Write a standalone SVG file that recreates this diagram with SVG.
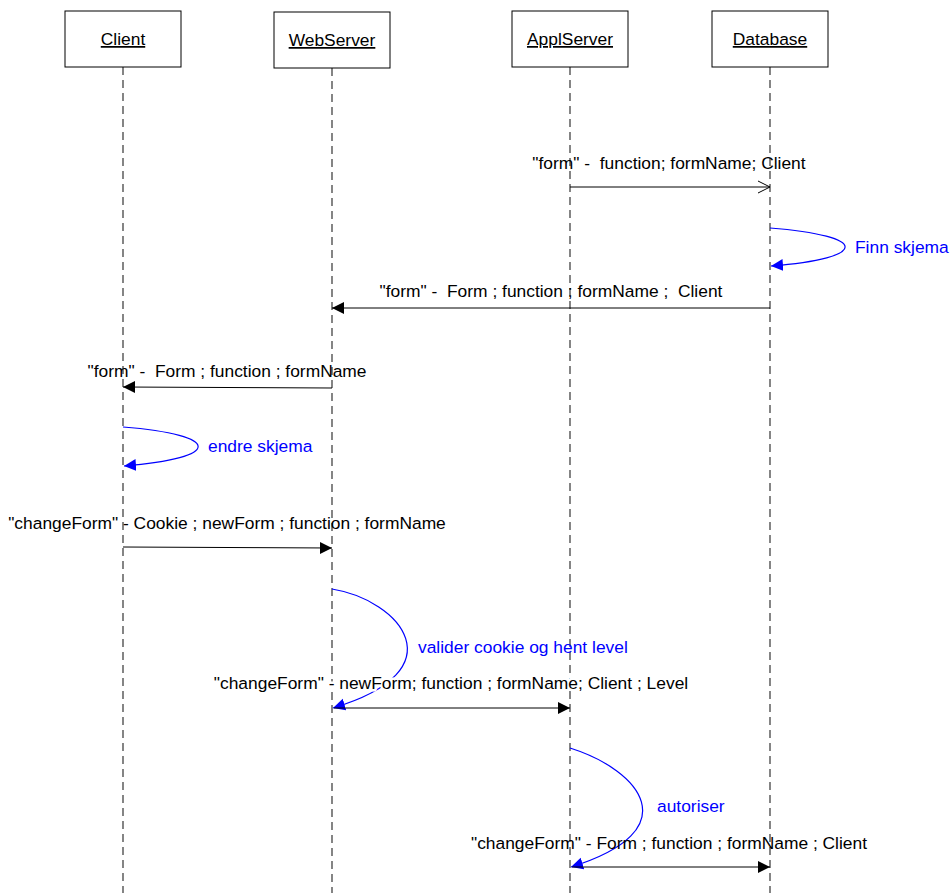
<svg xmlns="http://www.w3.org/2000/svg" width="951" height="893" viewBox="0 0 951 893">
<style>
text{font-family:"Liberation Sans",Arial,sans-serif;font-size:17.4px;fill:#000;white-space:pre}
.box{fill:#fff;stroke:#000;stroke-width:1}
.name{text-anchor:middle;text-decoration:underline}
.life{stroke:#444;stroke-width:1.3;stroke-dasharray:8 5;fill:none}
.msg{stroke:#000;stroke-width:1;fill:none}
.lbl{text-anchor:middle}
.self{stroke:#00f;stroke-width:1.2;fill:none;marker-end:url(#blue)}
.blue{fill:#00f}
.halo{stroke:#fff;stroke-width:5;paint-order:stroke;stroke-linejoin:round}
</style>
<defs>
<marker id="open" markerWidth="14" markerHeight="14" refX="12" refY="7" orient="auto" markerUnits="userSpaceOnUse"><path d="M0,1 L12,7 L0,13" fill="none" stroke="#000" stroke-width="1"/></marker>
<marker id="fill" markerWidth="14" markerHeight="14" refX="12" refY="7" orient="auto" markerUnits="userSpaceOnUse"><path d="M0,1 L12,7 L0,13 Z" fill="#000"/></marker>
<marker id="blue" markerWidth="14" markerHeight="14" refX="12" refY="7" orient="auto" markerUnits="userSpaceOnUse"><path d="M0,1 L12,7 L0,13 Z" fill="#00f"/></marker>
</defs>
<rect width="951" height="893" fill="#fff"/>
<g id="lifelines">
<line class="life" x1="123" y1="67" x2="123" y2="893"/>
<line class="life" x1="332" y1="68" x2="332" y2="893"/>
<line class="life" x1="570" y1="67" x2="570" y2="893"/>
<line class="life" x1="770" y1="67" x2="770" y2="893"/>
</g>
<g id="Client"><rect class="box" x="65" y="11" width="116" height="56"/><text class="name" x="123" y="45">Client</text></g>
<g id="WebServer"><rect class="box" x="274" y="12" width="116" height="56"/><text class="name" x="332" y="46">WebServer</text></g>
<g id="ApplServer"><rect class="box" x="512" y="11" width="116" height="56"/><text class="name" x="570" y="45">ApplServer</text></g>
<g id="Database"><rect class="box" x="712" y="11" width="116" height="56"/><text class="name" x="770" y="45">Database</text></g>
<g id="connectors">
<line class="msg" x1="570" y1="187" x2="770" y2="187" marker-end="url(#open)"/>
<path class="self" d="M770,228 C870,236 870,258 771,266"/>
<line class="msg" x1="770" y1="308" x2="332" y2="308" marker-end="url(#fill)"/>
<line class="msg" x1="332" y1="388" x2="123" y2="387" marker-end="url(#fill)"/>
<path class="self" d="M123,427 C223,435 223,458 124,466"/>
<line class="msg" x1="123" y1="547" x2="332" y2="548" marker-end="url(#fill)"/>
<path class="self" d="M332,589 C400,600 460,670 333,708"/>
<line class="msg" x1="334" y1="708" x2="570" y2="708" marker-end="url(#fill)"/>
<path class="self" d="M570,748 C640,770 690,830 571,867"/>
<line class="msg" x1="572" y1="867" x2="770" y2="867" marker-end="url(#fill)"/>
</g>
<g id="labels">
<text class="lbl" x="669" y="169">"form" -  function; formName; Client</text>
<text class="blue" x="855" y="253">Finn skjema</text>
<text class="lbl" x="551" y="297">"form" -  Form ; function ; formName ;  Client</text>
<text class="lbl" x="227" y="377">"form" -  Form ; function ; formName</text>
<text class="blue" x="208" y="452">endre skjema</text>
<text class="lbl" x="227" y="529">"changeForm" - Cookie ; newForm ; function ; formName</text>
<text class="blue" x="418" y="653">valider cookie og hent level</text>
<text class="lbl halo" x="451" y="689">"changeForm" - newForm; function ; formName; Client ; Level</text>
<text class="blue" x="657" y="812">autoriser</text>
<text class="lbl" x="669" y="849">"changeForm" - Form ; function ; formName ; Client</text>
</g>
</svg>
